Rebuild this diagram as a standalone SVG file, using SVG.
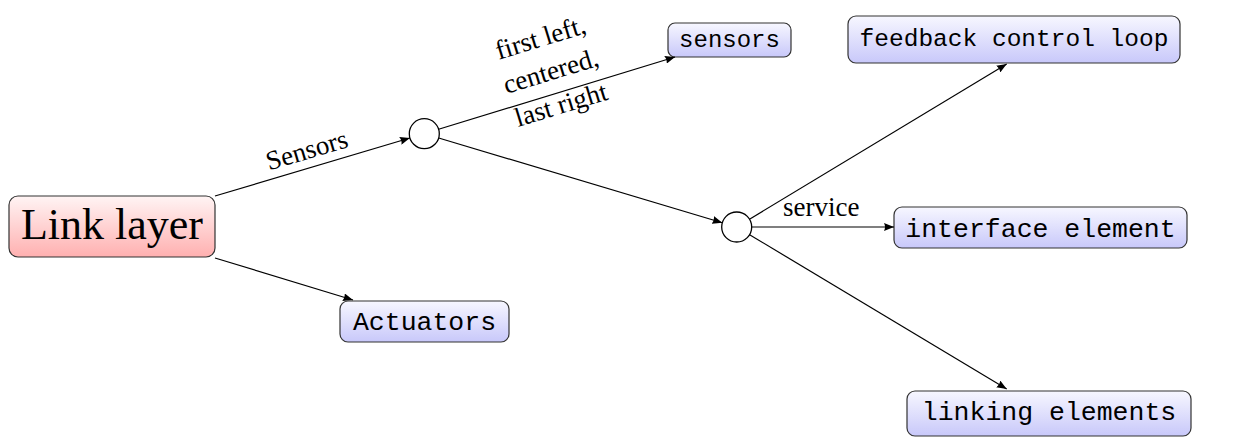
<svg xmlns="http://www.w3.org/2000/svg" width="1235" height="437" viewBox="0 0 1235 437">
<defs>
<linearGradient id="gBlue" x1="0" y1="0" x2="0" y2="1">
<stop offset="0" stop-color="#f7f7ff"/>
<stop offset="1" stop-color="#c8c8fa"/>
</linearGradient>
<linearGradient id="gRed" x1="0" y1="0" x2="0" y2="1">
<stop offset="0" stop-color="#fff4f4"/>
<stop offset="1" stop-color="#ffb0b0"/>
</linearGradient>
<marker id="arr" viewBox="0 0 10 8" refX="10" refY="4" markerWidth="10" markerHeight="8" markerUnits="userSpaceOnUse" orient="auto">
<path d="M0,0 L10,4 L0,8 Q2,4 0,0 z" fill="#000"/>
</marker>
<style>
.box{fill:url(#gBlue);stroke:#333;stroke-width:1.2}
.red{fill:url(#gRed);stroke:#333;stroke-width:1.2}
.circ{fill:#fff;stroke:#000;stroke-width:1.3}
.mono{font-family:"Liberation Mono","DejaVu Sans Mono",monospace;fill:#000;text-anchor:middle}
.serif{font-family:"Liberation Serif","DejaVu Serif",serif;fill:#000;text-anchor:middle;font-size:27px}
.edge{stroke:#000;stroke-width:1.2;fill:none;marker-end:url(#arr)}
</style>
</defs>
<g id="link-layer">
<rect class="red" x="9" y="196" width="206" height="61" rx="9"/>
<text class="serif" x="112" y="239" style="font-size:44px">Link layer</text>
</g>
<g id="c1"><circle class="circ" cx="424.3" cy="133.7" r="15"/></g>
<g id="c2"><circle class="circ" cx="736.7" cy="227" r="15"/></g>
<g id="sensors">
<rect class="box" x="668" y="23" width="123" height="34" rx="7"/>
<text class="mono" x="729.5" y="47" style="font-size:24px">sensors</text>
</g>
<g id="feedback">
<rect class="box" x="848" y="16" width="332" height="47" rx="8"/>
<text class="mono" x="1014" y="46" style="font-size:24.5px">feedback control loop</text>
</g>
<g id="interface">
<rect class="box" x="894" y="207" width="293" height="41" rx="8"/>
<text class="mono" x="1040.5" y="236.5" style="font-size:26.5px">interface element</text>
</g>
<g id="actuators">
<rect class="box" x="340" y="301" width="169" height="41" rx="8"/>
<text class="mono" x="424.5" y="330" style="font-size:26.5px">Actuators</text>
</g>
<g id="linking">
<rect class="box" x="907" y="391" width="284" height="45" rx="8"/>
<text class="mono" x="1049" y="420" style="font-size:26.5px">linking elements</text>
</g>
<g id="connectors">
<path class="edge" d="M215,196 L409.9,138"/>
<path class="edge" d="M215,258 L353,300"/>
<path class="edge" d="M438.6,129.3 L675,57"/>
<path class="edge" d="M438.7,138 L722.3,222.7"/>
<path class="edge" d="M749.5,219.2 L1006.7,64"/>
<path class="edge" d="M751.7,227 L894,227"/>
<path class="edge" d="M749.6,234.7 L1006.7,389"/>
<text class="serif" transform="translate(307,151) rotate(-16.5)" y="8">Sensors</text>
<g transform="translate(551,72) rotate(-17)">
<text class="serif" x="0" y="-27">first left,</text>
<text class="serif" x="0" y="8">centered,</text>
<text class="serif" x="0" y="43">last right</text>
</g>
<text class="serif" x="821.3" y="216">service</text>
</g>
</svg>
